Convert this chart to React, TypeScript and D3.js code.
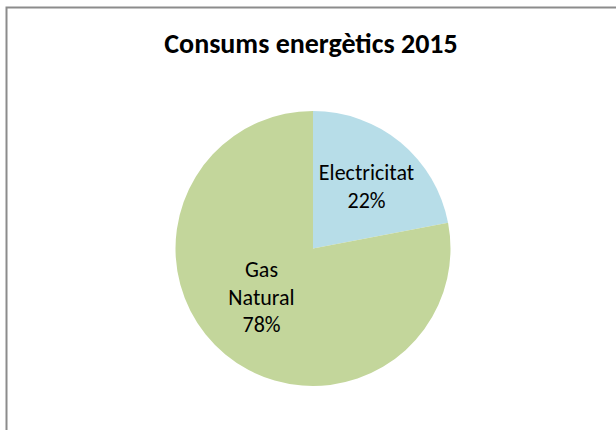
import React from "react";
import * as d3 from "d3";

const categories = ["Electricitat", "Gas Natural"];
const values = [22, 78];
const labelLines = [["Electricitat", "22%"], ["Gas", "Natural", "78%"]];
const colors = ["#B7DDE8", "#C3D69B"];
const title = "Consums energètics 2015";

export default function App() {
  const W = 616, H = 430;
  const cx = 313, cy = 248.5, r = 137.5;
  const pie = d3.pie<number>().sort(null).value((d) => d)(values);
  const arc = d3.arc<d3.PieArcDatum<number>>().innerRadius(0).outerRadius(r);
  const font = "Carlito, Calibri, Lato, 'Open Sans', sans-serif";
  const labelPos = [
    { x: 366.5, y: 180 },
    { x: 261.5, y: 277 },
  ];
  return (
    <svg width={W} height={H} style={{ position: "absolute", left: 0, top: 0 }}>
      <rect x={0} y={0} width={W} height={H} fill="#fff" />
      <rect x={6.5} y={7.5} width={W + 10} height={H + 10} fill="#fff" stroke="#8c8c8c" strokeWidth={2} />
      <text x={311} y={53} textAnchor="middle" fontFamily={font} fontWeight="bold" fontSize={28} fill="#000">
        {title}
      </text>
      <g transform={`translate(${cx},${cy})`}>
        {pie.map((p, i) => (
          <path key={categories[i]} d={arc(p) || ""} fill={colors[i]} />
        ))}
      </g>
      {labelLines.map((lines, i) => (
        <text key={i} textAnchor="middle" fontFamily={font} fontSize={22} fill="#000">
          {lines.map((l, j) => (
            <tspan key={j} x={labelPos[i].x} y={labelPos[i].y + j * 27.5}>
              {l}
            </tspan>
          ))}
        </text>
      ))}
    </svg>
  );
}
